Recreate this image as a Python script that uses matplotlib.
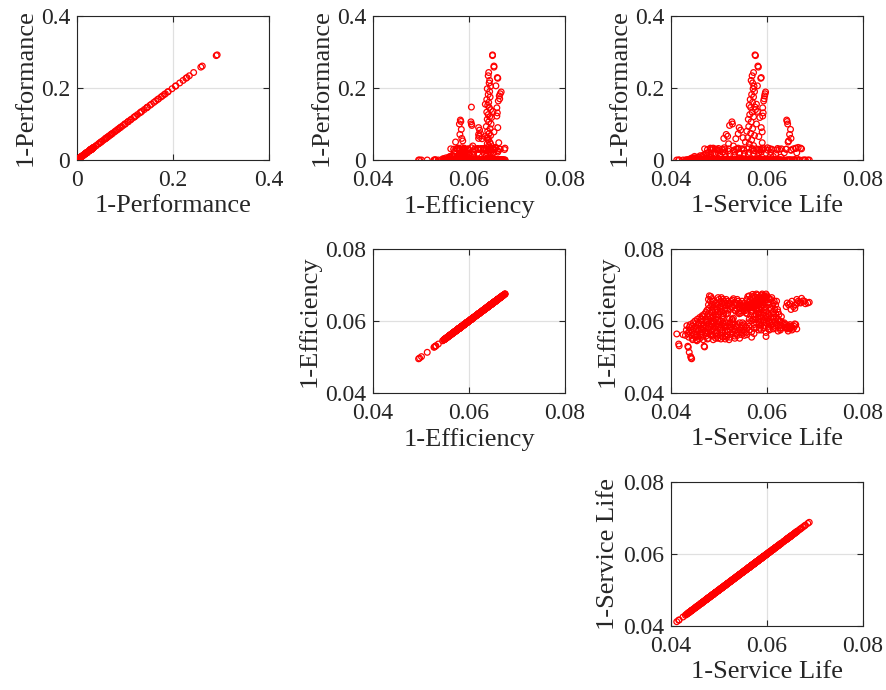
import numpy as np
import matplotlib.pyplot as plt
from matplotlib.ticker import FixedLocator, FuncFormatter

# objective names and tick values
names = ['1-Performance', '1-Efficiency', '1-Service Life']
limits = [(0, 0.4), (0.04, 0.08), (0.04, 0.08)]
ticks = [[0, 0.2, 0.4], [0.04, 0.06, 0.08], [0.04, 0.06, 0.08]]

# points as (1-Service Life, 1-Efficiency, 1-Performance)
outlier_pts = [
    (0.0412, 0.0564, 0.0), (0.0416, 0.0536, 0.0), (0.0417, 0.0531, 0.0), (0.0435, 0.0530, 0.0),
    (0.0436, 0.0527, 0.0), (0.0438, 0.0513, 0.0), (0.0441, 0.0501, 0.0), (0.0442, 0.0497, 0.0),
    (0.0443, 0.0495, 0.0), (0.0469, 0.0530, 0.0), (0.0470, 0.0528, 0.0), (0.0433, 0.0587, 0.0),
    (0.0425, 0.0562, 0.0), (0.0430, 0.0560, 0.0),
]

blob_pts = [
    (0.0432, 0.0575, 0.000), (0.0440, 0.0590, 0.000), (0.0441, 0.0575, 0.004), (0.0443, 0.0560, 0.000),
    (0.0445, 0.0548, 0.002), (0.0450, 0.0600, 0.006), (0.0452, 0.0585, 0.000), (0.0449, 0.0570, 0.010),
    (0.0451, 0.0555, 0.000), (0.0454, 0.0545, 0.003), (0.0460, 0.0610, 0.000), (0.0458, 0.0595, 0.008),
    (0.0462, 0.0580, 0.000), (0.0461, 0.0565, 0.012), (0.0459, 0.0550, 0.000),
    (0.0470, 0.0620, 0.031), (0.0472, 0.0605, 0.000), (0.0468, 0.0590, 0.014), (0.0471, 0.0572, 0.000),
    (0.0473, 0.0558, 0.005),
    (0.0480, 0.0670, 0.000), (0.0482, 0.0655, 0.033), (0.0479, 0.0635, 0.010), (0.0481, 0.0615, 0.000),
    (0.0483, 0.0598, 0.028), (0.0478, 0.0578, 0.000), (0.0484, 0.0560, 0.007),
    (0.0490, 0.0645, 0.000), (0.0492, 0.0625, 0.030), (0.0489, 0.0600, 0.000), (0.0491, 0.0582, 0.016),
    (0.0493, 0.0565, 0.000), (0.0488, 0.0548, 0.004),
    (0.0500, 0.0660, 0.026), (0.0502, 0.0640, 0.000), (0.0499, 0.0618, 0.032), (0.0501, 0.0595, 0.011),
    (0.0503, 0.0575, 0.000), (0.0498, 0.0552, 0.000),
    (0.0510, 0.0655, 0.000), (0.0512, 0.0630, 0.029), (0.0509, 0.0605, 0.000), (0.0511, 0.0585, 0.034),
    (0.0513, 0.0560, 0.009),
    (0.0520, 0.0650, 0.031), (0.0522, 0.0590, 0.000), (0.0519, 0.0570, 0.025), (0.0521, 0.0548, 0.000),
    (0.0530, 0.0662, 0.000), (0.0532, 0.0645, 0.028), (0.0529, 0.0598, 0.000), (0.0531, 0.0578, 0.013),
    (0.0533, 0.0558, 0.000),
    (0.0540, 0.0655, 0.033), (0.0542, 0.0640, 0.000), (0.0539, 0.0590, 0.030), (0.0541, 0.0570, 0.000),
    (0.0543, 0.0552, 0.006),
    (0.0550, 0.0645, 0.000), (0.0552, 0.0635, 0.027), (0.0549, 0.0595, 0.000), (0.0551, 0.0575, 0.031),
    (0.0553, 0.0560, 0.000),
    (0.0560, 0.0668, 0.000), (0.0562, 0.0640, 0.034), (0.0559, 0.0620, 0.000), (0.0561, 0.0595, 0.015),
    (0.0563, 0.0575, 0.000),
    (0.0570, 0.0674, 0.029), (0.0572, 0.0655, 0.000), (0.0569, 0.0630, 0.032), (0.0571, 0.0605, 0.000),
    (0.0573, 0.0580, 0.026), (0.0568, 0.0555, 0.000),
    (0.0580, 0.0672, 0.000), (0.0582, 0.0650, 0.030), (0.0579, 0.0628, 0.000), (0.0581, 0.0610, 0.012),
    (0.0583, 0.0590, 0.000),
    (0.0590, 0.0675, 0.033), (0.0592, 0.0660, 0.000), (0.0589, 0.0640, 0.028), (0.0591, 0.0618, 0.000),
    (0.0593, 0.0598, 0.031), (0.0588, 0.0575, 0.000),
    (0.0600, 0.0670, 0.000), (0.0602, 0.0650, 0.027), (0.0599, 0.0625, 0.000), (0.0601, 0.0605, 0.034),
    (0.0603, 0.0585, 0.000), (0.0598, 0.0557, 0.000),
    (0.0610, 0.0665, 0.030), (0.0612, 0.0642, 0.000), (0.0609, 0.0620, 0.029), (0.0611, 0.0598, 0.000),
    (0.0613, 0.0578, 0.010),
    (0.0620, 0.0655, 0.000), (0.0622, 0.0632, 0.032), (0.0619, 0.0610, 0.000), (0.0621, 0.0590, 0.028),
    (0.0623, 0.0572, 0.000),
    (0.0630, 0.0612, 0.031), (0.0632, 0.0595, 0.000), (0.0629, 0.0580, 0.008), (0.0640, 0.0590, 0.030),
    (0.0642, 0.0578, 0.000), (0.0650, 0.0585, 0.027), (0.0652, 0.0575, 0.000), (0.0660, 0.0590, 0.033),
    (0.0662, 0.0578, 0.004),
]

# second pass over the dense areas of the 1-Efficiency / 1-Service Life panel
fill_pts = [
    (0.0435, 0.0565, 0.0), (0.0438, 0.0582, 0.0), (0.0446, 0.0595, 0.0), (0.0447, 0.0578, 0.005),
    (0.0448, 0.0562, 0.0), (0.0455, 0.0605, 0.0), (0.0456, 0.0590, 0.0), (0.0457, 0.0575, 0.0),
    (0.0456, 0.0558, 0.008), (0.0465, 0.0615, 0.0), (0.0464, 0.0600, 0.0), (0.0466, 0.0585, 0.010),
    (0.0465, 0.0570, 0.0), (0.0463, 0.0555, 0.0), (0.0475, 0.0630, 0.0), (0.0476, 0.0612, 0.029),
    (0.0474, 0.0596, 0.0), (0.0477, 0.0580, 0.0), (0.0475, 0.0565, 0.012), (0.0476, 0.0550, 0.0),
    (0.0485, 0.0662, 0.0), (0.0486, 0.0645, 0.0), (0.0485, 0.0625, 0.032), (0.0487, 0.0608, 0.0),
    (0.0486, 0.0590, 0.0), (0.0485, 0.0572, 0.003), (0.0495, 0.0650, 0.030), (0.0496, 0.0632, 0.0),
    (0.0494, 0.0612, 0.0), (0.0497, 0.0592, 0.027), (0.0495, 0.0573, 0.0), (0.0496, 0.0558, 0.0),
    (0.0505, 0.0665, 0.0), (0.0506, 0.0648, 0.0), (0.0505, 0.0628, 0.0), (0.0507, 0.0610, 0.0),
    (0.0505, 0.0588, 0.0), (0.0506, 0.0568, 0.030), (0.0504, 0.0550, 0.0), (0.0515, 0.0660, 0.0),
    (0.0516, 0.0642, 0.0), (0.0515, 0.0595, 0.0), (0.0517, 0.0575, 0.0), (0.0516, 0.0555, 0.0),
    (0.0525, 0.0655, 0.0), (0.0526, 0.0638, 0.0), (0.0525, 0.0582, 0.0), (0.0527, 0.0565, 0.0),
    (0.0535, 0.0650, 0.0), (0.0536, 0.0635, 0.030), (0.0537, 0.0585, 0.0), (0.0536, 0.0565, 0.0),
    (0.0545, 0.0645, 0.0), (0.0546, 0.0628, 0.0), (0.0545, 0.0580, 0.0), (0.0547, 0.0562, 0.031),
    (0.0555, 0.0638, 0.0), (0.0556, 0.0622, 0.0), (0.0555, 0.0585, 0.0), (0.0557, 0.0568, 0.0),
    (0.0565, 0.0660, 0.0), (0.0566, 0.0615, 0.0), (0.0575, 0.0665, 0.0), (0.0576, 0.0640, 0.0),
    (0.0577, 0.0618, 0.031), (0.0578, 0.0595, 0.0), (0.0585, 0.0668, 0.0), (0.0586, 0.0640, 0.0),
    (0.0584, 0.0620, 0.0), (0.0586, 0.0600, 0.0), (0.0585, 0.0580, 0.029), (0.0595, 0.0670, 0.0),
    (0.0596, 0.0650, 0.0), (0.0594, 0.0630, 0.0), (0.0596, 0.0608, 0.0), (0.0595, 0.0588, 0.0),
    (0.0605, 0.0660, 0.0), (0.0606, 0.0638, 0.0), (0.0604, 0.0615, 0.0), (0.0606, 0.0595, 0.0),
    (0.0605, 0.0575, 0.032), (0.0615, 0.0655, 0.0), (0.0616, 0.0632, 0.0), (0.0614, 0.0610, 0.0),
    (0.0616, 0.0588, 0.0), (0.0625, 0.0618, 0.0), (0.0626, 0.0598, 0.030), (0.0627, 0.0580, 0.0),
    (0.0635, 0.0590, 0.0), (0.0645, 0.0582, 0.0), (0.0655, 0.0580, 0.031), (0.0658, 0.0592, 0.0),
]

# third pass, in between the first two
fill2_pts = [
    (0.0437, 0.0570, 0.0), (0.0437, 0.0555, 0.0), (0.0444, 0.0585, 0.0), (0.0444, 0.0568, 0.006),
    (0.0444, 0.0552, 0.0), (0.0453, 0.0595, 0.0), (0.0453, 0.0578, 0.0), (0.0453, 0.0562, 0.0),
    (0.0453, 0.0548, 0.0), (0.0463, 0.0605, 0.004), (0.0463, 0.0590, 0.0), (0.0463, 0.0575, 0.0),
    (0.0463, 0.0560, 0.009), (0.0467, 0.0612, 0.0), (0.0467, 0.0580, 0.0), (0.0467, 0.0548, 0.0),
    (0.0473, 0.0625, 0.0), (0.0473, 0.0600, 0.018), (0.0473, 0.0585, 0.0), (0.0473, 0.0568, 0.0),
    (0.0478, 0.0660, 0.0), (0.0478, 0.0645, 0.0), (0.0478, 0.0620, 0.0), (0.0478, 0.0605, 0.0),
    (0.0478, 0.0590, 0.021), (0.0478, 0.0568, 0.0), (0.0478, 0.0552, 0.0), (0.0483, 0.0668, 0.0),
    (0.0483, 0.0640, 0.0), (0.0483, 0.0608, 0.015), (0.0483, 0.0585, 0.0), (0.0483, 0.0565, 0.0),
    (0.0488, 0.0655, 0.0), (0.0488, 0.0635, 0.0), (0.0488, 0.0615, 0.0), (0.0488, 0.0595, 0.0),
    (0.0488, 0.0578, 0.033), (0.0488, 0.0558, 0.0), (0.0493, 0.0640, 0.0), (0.0493, 0.0618, 0.019),
    (0.0493, 0.0605, 0.0), (0.0493, 0.0588, 0.0), (0.0493, 0.0568, 0.0), (0.0493, 0.0552, 0.0),
    (0.0498, 0.0665, 0.0), (0.0498, 0.0645, 0.0), (0.0498, 0.0625, 0.0), (0.0498, 0.0602, 0.0),
    (0.0498, 0.0583, 0.020), (0.0498, 0.0562, 0.0), (0.0503, 0.0655, 0.0), (0.0503, 0.0635, 0.0),
    (0.0503, 0.0600, 0.0), (0.0503, 0.0580, 0.0), (0.0503, 0.0560, 0.0), (0.0508, 0.0660, 0.022),
    (0.0508, 0.0640, 0.0), (0.0508, 0.0615, 0.0), (0.0508, 0.0595, 0.0), (0.0508, 0.0575, 0.0),
    (0.0508, 0.0555, 0.0), (0.0513, 0.0650, 0.0), (0.0513, 0.0635, 0.0), (0.0513, 0.0590, 0.0),
    (0.0513, 0.0570, 0.018), (0.0513, 0.0550, 0.0), (0.0518, 0.0655, 0.0), (0.0518, 0.0630, 0.0),
    (0.0518, 0.0585, 0.0), (0.0518, 0.0562, 0.0), (0.0523, 0.0648, 0.0), (0.0523, 0.0632, 0.017),
    (0.0523, 0.0595, 0.0), (0.0523, 0.0575, 0.0), (0.0523, 0.0555, 0.0), (0.0528, 0.0658, 0.0),
    (0.0528, 0.0640, 0.0), (0.0528, 0.0590, 0.0), (0.0528, 0.0570, 0.0), (0.0533, 0.0652, 0.0),
    (0.0533, 0.0630, 0.0), (0.0533, 0.0592, 0.022), (0.0533, 0.0572, 0.0), (0.0533, 0.0552, 0.0),
    (0.0538, 0.0660, 0.0), (0.0538, 0.0645, 0.0), (0.0538, 0.0582, 0.0), (0.0538, 0.0560, 0.0),
    (0.0543, 0.0650, 0.020), (0.0543, 0.0635, 0.0), (0.0543, 0.0595, 0.0), (0.0543, 0.0575, 0.0),
    (0.0548, 0.0655, 0.0), (0.0548, 0.0640, 0.0), (0.0548, 0.0588, 0.0), (0.0548, 0.0568, 0.0),
    (0.0553, 0.0650, 0.0), (0.0553, 0.0628, 0.0), (0.0553, 0.0590, 0.019), (0.0553, 0.0570, 0.0),
    (0.0558, 0.0660, 0.0), (0.0558, 0.0645, 0.0), (0.0558, 0.0630, 0.0), (0.0558, 0.0580, 0.0),
    (0.0558, 0.0562, 0.0), (0.0563, 0.0670, 0.0), (0.0563, 0.0652, 0.021), (0.0563, 0.0635, 0.0),
    (0.0563, 0.0605, 0.0), (0.0563, 0.0585, 0.0), (0.0568, 0.0665, 0.0), (0.0568, 0.0648, 0.0),
    (0.0568, 0.0625, 0.0), (0.0568, 0.0600, 0.0), (0.0568, 0.0570, 0.0), (0.0573, 0.0670, 0.0),
    (0.0573, 0.0650, 0.0), (0.0573, 0.0635, 0.018), (0.0573, 0.0612, 0.0), (0.0573, 0.0590, 0.0),
    (0.0573, 0.0565, 0.0), (0.0578, 0.0675, 0.0), (0.0578, 0.0658, 0.0), (0.0578, 0.0632, 0.0),
    (0.0578, 0.0605, 0.0), (0.0578, 0.0582, 0.0), (0.0583, 0.0665, 0.0), (0.0583, 0.0645, 0.020),
    (0.0583, 0.0622, 0.0), (0.0583, 0.0598, 0.0), (0.0583, 0.0575, 0.0), (0.0588, 0.0672, 0.0),
    (0.0588, 0.0652, 0.0), (0.0588, 0.0630, 0.0), (0.0588, 0.0610, 0.022), (0.0588, 0.0590, 0.0),
    (0.0593, 0.0668, 0.0), (0.0593, 0.0645, 0.0), (0.0593, 0.0622, 0.0), (0.0593, 0.0602, 0.0),
    (0.0593, 0.0580, 0.0), (0.0598, 0.0675, 0.0), (0.0598, 0.0660, 0.0), (0.0598, 0.0638, 0.019),
    (0.0598, 0.0615, 0.0), (0.0598, 0.0595, 0.0), (0.0598, 0.0568, 0.0), (0.0603, 0.0665, 0.0),
    (0.0603, 0.0645, 0.0), (0.0603, 0.0620, 0.0), (0.0603, 0.0598, 0.0), (0.0603, 0.0578, 0.0),
    (0.0608, 0.0660, 0.0), (0.0608, 0.0632, 0.0), (0.0608, 0.0610, 0.021), (0.0608, 0.0588, 0.0),
    (0.0613, 0.0650, 0.0), (0.0613, 0.0625, 0.0), (0.0613, 0.0605, 0.0), (0.0613, 0.0585, 0.0),
    (0.0618, 0.0645, 0.0), (0.0618, 0.0620, 0.0), (0.0618, 0.0600, 0.017), (0.0618, 0.0580, 0.0),
    (0.0623, 0.0625, 0.0), (0.0623, 0.0605, 0.0), (0.0623, 0.0585, 0.0), (0.0628, 0.0600, 0.0),
    (0.0628, 0.0588, 0.0), (0.0628, 0.0575, 0.0), (0.0636, 0.0583, 0.020), (0.0636, 0.0595, 0.0),
    (0.0648, 0.0590, 0.0), (0.0648, 0.0578, 0.0), (0.0657, 0.0585, 0.0),
]

right_pts = [
    (0.0640, 0.0640, 0.030), (0.0642, 0.0650, 0.000), (0.0650, 0.0632, 0.028), (0.0652, 0.0655, 0.000),
    (0.0660, 0.0645, 0.032), (0.0662, 0.0660, 0.000), (0.0670, 0.0650, 0.033), (0.0672, 0.0663, 0.031),
    (0.0680, 0.0648, 0.000), (0.0688, 0.0652, 0.000), (0.0665, 0.0655, 0.035), (0.0645, 0.0645, 0.0),
    (0.0655, 0.0640, 0.0), (0.0668, 0.0652, 0.0), (0.0675, 0.0656, 0.0), (0.0685, 0.0650, 0.0),
    (0.0648, 0.0648, 0.0), (0.0658, 0.0635, 0.0), (0.0662, 0.0650, 0.020), (0.0678, 0.0655, 0.0),
]

spike_pts = [
    (0.0575, 0.0649, 0.292), (0.0576, 0.0649, 0.290), (0.0581, 0.0652, 0.261), (0.0582, 0.0652, 0.258),
    (0.0587, 0.0660, 0.227), (0.0588, 0.0659, 0.229), (0.0572, 0.0641, 0.243), (0.0567, 0.0643, 0.221),
    (0.0569, 0.0640, 0.234), (0.0570, 0.0642, 0.214), (0.0573, 0.0645, 0.205), (0.0571, 0.0638, 0.198),
    (0.0580, 0.0656, 0.206), (0.0574, 0.0643, 0.190), (0.0568, 0.0640, 0.182), (0.0572, 0.0644, 0.175),
    (0.0565, 0.0637, 0.168), (0.0570, 0.0641, 0.160), (0.0563, 0.0639, 0.152), (0.0566, 0.0642, 0.146),
    (0.0576, 0.0645, 0.140), (0.0569, 0.0637, 0.133), (0.0564, 0.0640, 0.126), (0.0572, 0.0643, 0.120),
    (0.0561, 0.0638, 0.113), (0.0567, 0.0641, 0.106), (0.0578, 0.0646, 0.100), (0.0562, 0.0636, 0.093),
    (0.0570, 0.0644, 0.087), (0.0558, 0.0639, 0.080), (0.0566, 0.0642, 0.074), (0.0574, 0.0645, 0.068),
    (0.0560, 0.0637, 0.062), (0.0568, 0.0640, 0.056), (0.0555, 0.0643, 0.050), (0.0563, 0.0638, 0.045),
    (0.0572, 0.0641, 0.040), (0.0578, 0.0634, 0.155), (0.0585, 0.0647, 0.118), (0.0580, 0.0650, 0.135),
    (0.0583, 0.0633, 0.065), (0.0590, 0.0652, 0.078),
]

side_pts = [
    (0.0597, 0.0667, 0.189), (0.0596, 0.0665, 0.184), (0.0595, 0.0663, 0.178), (0.0593, 0.0661, 0.164),
    (0.0591, 0.0658, 0.145), (0.0592, 0.0659, 0.131), (0.0591, 0.0658, 0.122), (0.0588, 0.0660, 0.090),
    (0.0590, 0.0662, 0.048), (0.0594, 0.0664, 0.170),
    (0.0641, 0.0582, 0.111), (0.0642, 0.0583, 0.107), (0.0643, 0.0580, 0.100), (0.0649, 0.0584, 0.085),
    (0.0647, 0.0581, 0.071), (0.0645, 0.0587, 0.053), (0.0650, 0.0585, 0.060), (0.0644, 0.0572, 0.050),
    (0.0527, 0.0604, 0.106), (0.0528, 0.0605, 0.100), (0.0515, 0.0620, 0.071), (0.0518, 0.0621, 0.066),
    (0.0542, 0.0620, 0.090), (0.0575, 0.0605, 0.147), (0.0535, 0.0627, 0.059), (0.0530, 0.0608, 0.039),
    (0.0510, 0.0620, 0.060), (0.0520, 0.0645, 0.045), (0.0522, 0.0606, 0.096), (0.0545, 0.0622, 0.083),
    (0.0540, 0.0624, 0.073), (0.0550, 0.0640, 0.062),
]

pts = np.array(outlier_pts + blob_pts + fill_pts + fill2_pts + right_pts + spike_pts + side_pts)
life, eff, perf = pts[:, 0], pts[:, 1], pts[:, 2]
values = [perf, eff, life]

plt.rcParams['font.family'] = ['Liberation Serif', 'DejaVu Serif']

fig = plt.figure(figsize=(8.86, 6.9), dpi=100)
W, H = 886, 690

# axes boxes in pixels: left, top
lefts = [77, 373, 671]
tops = [16, 249, 482]
aw, ah = 192, 144
ink = '#262626'

fmt = FuncFormatter(lambda v, p: f'{v:g}')

for i in range(3):
    for j in range(i, 3):
        ax = fig.add_axes([lefts[j] / W, (H - tops[i] - ah) / H, aw / W, ah / H])
        ax.scatter(values[j], values[i], s=17, facecolors='none', edgecolors='red', linewidths=0.9, zorder=3)
        ax.set_xlim(limits[j])
        ax.set_ylim(limits[i])
        ax.xaxis.set_major_locator(FixedLocator(ticks[j]))
        ax.yaxis.set_major_locator(FixedLocator(ticks[i]))
        ax.xaxis.set_major_formatter(fmt)
        ax.yaxis.set_major_formatter(fmt)
        ax.grid(True, color='#e0e0e0', lw=0.9, zorder=0)
        ax.tick_params(direction='in', length=4, width=0.8, top=True, right=True, color=ink,
                       labelcolor=ink, labelsize=17)
        ax.tick_params(axis='x', pad=7)
        ax.tick_params(axis='y', pad=5)
        for sp in ax.spines.values():
            sp.set_linewidth(0.8)
            sp.set_color(ink)
        ax.set_xlabel(names[j], color=ink, fontsize=19, labelpad=3)
        ax.set_ylabel(names[i], color=ink, fontsize=19, labelpad=3)

fig.savefig('out.png', dpi=100)
